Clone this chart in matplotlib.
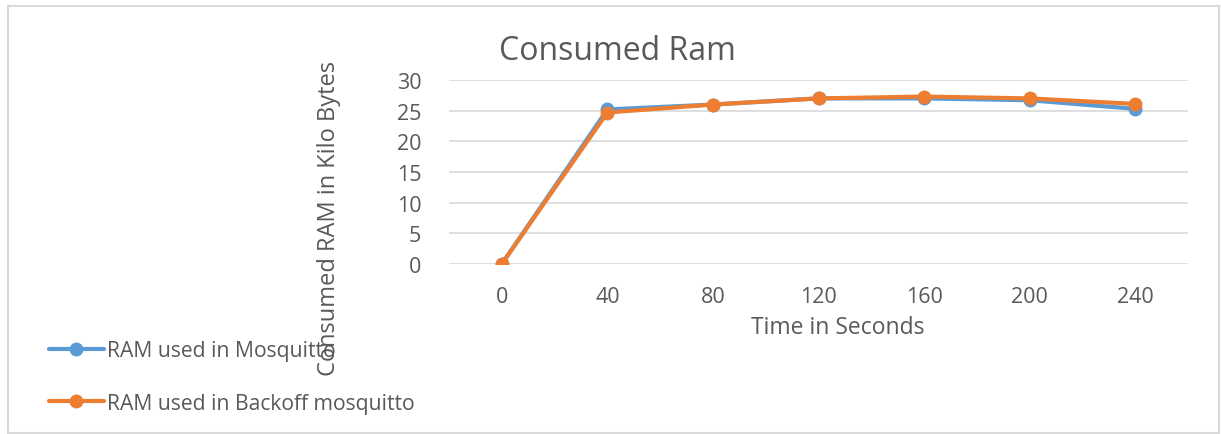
import matplotlib.pyplot as plt
from matplotlib.patches import Rectangle

# time points in seconds, RAM in kilobytes
seconds = ["0", "40", "80", "120", "160", "200", "240"]
ram_mosquitto = [0, 25.2, 26.0, 27.0, 27.0, 26.7, 25.3]
ram_backoff = [0, 24.7, 26.0, 27.0, 27.3, 27.0, 26.1]

BLUE = "#5B9BD5"
ORANGE = "#ED7D31"
TEXT = "#595959"
GRID = "#D9D9D9"

plt.rcParams["font.family"] = ["Open Sans", "DejaVu Sans"]

fig = plt.figure(figsize=(12.21, 4.35), dpi=100)
W, H = 1221, 435

# light chart border
fig.patches.append(Rectangle((8 / W, 1 / H), 1211 / W, 427 / H, transform=fig.transFigure,
                             fill=False, edgecolor=GRID, linewidth=1.5))

ax = fig.add_axes([449 / W, 1 - 265 / H, 739 / W, 184 / H])
x = list(range(len(seconds)))
line_m, = ax.plot(x, ram_mosquitto, color=BLUE, linewidth=3, marker="o", markersize=9,
                  solid_capstyle="round", label="RAM used in Mosquitto", zorder=3)
line_b, = ax.plot(x, ram_backoff, color=ORANGE, linewidth=3, marker="o", markersize=9,
                  solid_capstyle="round", label="RAM used in Backoff mosquitto", zorder=4)

ax.set_xlim(-0.5, len(seconds) - 0.5)
ax.set_ylim(0, 30)
ax.set_yticks(range(0, 31, 5))
ax.set_xticks(x)
ax.set_xticklabels(seconds)
ax.grid(axis="y", color=GRID, linewidth=1.2)
ax.set_axisbelow(True)
for s in ax.spines.values():
    s.set_visible(False)
ax.tick_params(length=0, labelsize=15.5, labelcolor=TEXT)
ax.tick_params(axis="x", pad=16)
ax.tick_params(axis="y", pad=20)

fig.text(617 / W, 1 - 52 / H, "Consumed Ram", ha="center", va="center", fontsize=23, color=TEXT)
fig.text(838 / W, 1 - 328 / H, "Time in Seconds", ha="center", va="center", fontsize=16.5, color=TEXT)
fig.text(329 / W, 1 - 218 / H, "Consumed RAM in Kilo Bytes", ha="center", va="center",
         rotation=90, fontsize=17, color=TEXT)

leg = fig.legend(handles=[line_m, line_b], loc="center left", bbox_to_anchor=(49 / W, 1 - 378 / H),
                 frameon=False, fontsize=15.2, labelcolor=TEXT, handlelength=2.6, handletextpad=0.15,
                 labelspacing=1.5, borderaxespad=0, borderpad=0)

fig.savefig("out.png", dpi=100)
